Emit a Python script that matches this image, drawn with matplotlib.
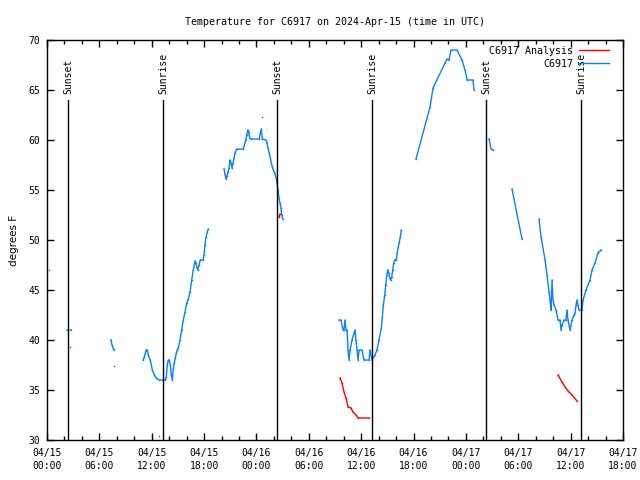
import numpy as np
import pandas as pd
import matplotlib
matplotlib.use("Agg")
import matplotlib.pyplot as plt
import matplotlib.dates as mdates

nan = np.nan

# hours after 2024-04-15 00:00 UTC, nan = gap in the record
obs_hours = [0.2, nan,
             2.3, 2.75, nan,
             7.33, 7.45, 7.56, 7.68, nan,
             11.03, 11.15, 11.27, 11.38, 11.5, 11.6, 11.83, 12.07, 12.3, 12.52, 12.87,
             13.56, 13.67, 13.78, 13.9, 14.01, 14.13, 14.24, 14.36, 14.47, 14.59, 14.7,
             14.82, 14.93, 15.05, 15.24, 15.43, 15.62, 15.81, 16.01, 16.19, 16.39,
             16.58, 16.76, 16.96, 17.07, 17.19, 17.3, 17.42, 17.57, 17.88, 17.99,
             18.1, 18.22, 18.37, 18.48, nan,
             20.28, 20.4, 20.51, 20.63, 20.74, 20.85, 20.97, 21.08, 21.2, 21.31,
             21.43, 21.54, 21.74, 22.49, 22.61, 22.77, 22.88, 23.0, 23.11, 23.23,
             23.34, 24.33, 24.44, 24.56, 24.67, 25.09, 25.21, 25.32, 25.47, 25.59,
             25.7, 25.82, 25.93, 26.09, 26.24, 26.35, 26.47, 26.58, 26.7, 26.81,
             26.89, 27.01, nan,
             33.46, 33.69, 33.92, 34.03, 34.15, 34.26, 34.38, 34.49, 34.6, 34.72,
             34.95, 35.29, 35.41, 35.52, 35.64, 35.75, 36.09, 36.32, 36.9, 37.01,
             37.24, 37.58, 37.81, 38.04, 38.31, 38.42, 38.54, 38.7, 38.81, 38.93,
             39.04, 39.15, 39.27, 39.38, 39.5, 39.61, 39.73, 39.84, 40.03, 40.14,
             40.25, 40.37, 40.48, 40.6, nan,
             42.28, 43.89, 44.23, 45.6, 45.83, 46.06, 46.29, 46.98, 47.55, 47.9,
             48.13, 48.81, 48.93, nan,
             50.65, 50.88, 51.1, nan,
             53.28, 54.43, nan,
             56.38, 56.61, 57.07, 57.29, 57.52, 57.64, 57.75, 57.87, 57.98, 58.1,
             58.33, 58.55, 58.78, 58.9, 59.01, 59.24, 59.47, 59.58, 59.7, 59.93,
             60.16, 60.39, 60.5, 60.62, 60.73, 60.85, 60.96, 61.3, 61.42, 61.76,
             62.22, 62.45, 62.79, 63.13, 63.48]
obs_temp = [47, nan,
            41, 41, nan,
            40, 39.5, 39.2, 39, nan,
            38, 38.3, 38.7, 39, 39, 38.5, 38, 37, 36.5, 36.2, 36,
            36, 36.3, 37.5, 38, 38, 37.5, 36.5, 36, 37.2, 37.7, 38.2,
            38.7, 39, 39.2, 40, 41, 42, 42.8, 43.7, 44.1, 44.8,
            46, 47, 47.9, 47.7, 47.2, 47, 47.5, 48, 48, 48.5,
            49.5, 50.3, 50.8, 51.1, nan,
            57.1, 56.6, 56.1, 56.4, 56.8, 57.2, 58, 57.7, 57.2, 57.7,
            58.2, 58.7, 59.1, 59.1, 59.5, 60, 60.5, 61, 60.8, 60.2,
            60.1, 60.1, 60.7, 61.1, 60.1, 60, 59.7, 59.2, 58.7, 58.2,
            57.7, 57.3, 57, 56.7, 56.3, 55.7, 55, 54.2, 53.7, 53.2,
            52.5, 52.1, nan,
            42, 42, 41, 41, 42, 41, 41, 39, 38, 39,
            40, 41, 40, 39, 38, 39, 39, 38, 38, 39,
            38, 38.5, 39, 40, 41.2, 42.3, 43.5, 44.5, 45.5, 46.5,
            47, 46.7, 46.2, 46, 46.3, 47, 47.7, 48, 48, 48.8,
            49.3, 49.8, 50.3, 51, nan,
            58.1, 63.3, 65.2, 67.7, 68.1, 68, 69, 69, 68, 67,
            66, 66, 65, nan,
            60.1, 59.1, 59, nan,
            55.1, 50.1, nan,
            52.1, 50.3, 48, 46.5, 44.8, 44, 43, 46, 44, 43.5,
            43, 42, 42, 41, 41.5, 42, 42, 43, 42, 41,
            42, 42.5, 42.7, 43.5, 44, 43.5, 43, 43, 44, 45,
            46, 47, 47.7, 48.7, 49]

ana_hours = [2.64, nan,
             7.7, nan,
             12.8, nan,
             24.67, nan,
             26.58, 26.7, nan,
             33.57, 33.8, 34.03, 34.26, 34.49, 34.83, 35.06, 35.41, 35.64, 36.9, nan,
             58.55, 59.01, 59.36, 59.7, 60.16, 60.73]
ana_temp = [39.3, nan,
            37.4, nan,
            30.4, nan,
            62.3, nan,
            52.3, 52.6, nan,
            36.2, 35.7, 34.8, 34.2, 33.3, 33.2, 32.8, 32.5, 32.2, 32.2, nan,
            36.5, 35.8, 35.3, 34.9, 34.5, 33.9]

sun_hours = [2.4, 13.3, 26.35, 37.24, 50.3, 61.2]
sun_labels = ['Sunset', 'Sunrise', 'Sunset', 'Sunrise', 'Sunset', 'Sunrise']

start = mdates.date2num(pd.Timestamp('2024-04-15 00:00'))
end = mdates.date2num(pd.Timestamp('2024-04-17 18:00'))


def to_time(hours):
    return start + np.asarray(hours, dtype=float) / 24.0


mono = 'DejaVu Sans Mono'

fig = plt.figure(figsize=(6.4, 4.8), dpi=100)
ax = fig.add_axes([47 / 640, 40 / 480, 576 / 640, 400 / 480])
ax.xaxis_date()

ax.plot(to_time(ana_hours), ana_temp, color='#ff0000', lw=1,
        marker='s', markersize=1, markeredgewidth=0, label='C6917 Analysis')
ax.plot(to_time(obs_hours), obs_temp, color='#0a80ff', lw=1,
        marker='s', markersize=1, markeredgewidth=0, label='C6917')

for t, lab in zip(to_time(sun_hours), sun_labels):
    ax.plot([t, t], [30, 64], color='black', lw=1)
    ax.text(t, 64.6, lab, rotation=90, ha='center', va='bottom',
            family=mono, fontsize=7)

ax.set_xlim(start, end)
ax.set_ylim(30, 70)
ax.set_yticks(np.arange(30, 71, 5))
ax.xaxis.set_major_locator(mdates.HourLocator(byhour=[0, 6, 12, 18]))
ax.xaxis.set_minor_locator(mdates.HourLocator(interval=2))
ax.xaxis.set_major_formatter(mdates.DateFormatter('%m/%d\n%H:%M'))

ax.tick_params(which='both', direction='in', top=True, right=True, width=1)
ax.tick_params(which='major', length=5, labelsize=7)
ax.tick_params(which='minor', length=3)
ax.tick_params(axis='x', which='major', pad=6)
ax.tick_params(axis='y', which='major', pad=5)
for lab in ax.get_xticklabels() + ax.get_yticklabels():
    lab.set_family(mono)
    lab.set_linespacing(1.3)
for sp in ax.spines.values():
    sp.set_linewidth(1)

ax.set_title('Temperature for C6917 on 2024-Apr-15 (time in UTC)',
             family=mono, fontsize=7.2, pad=11)
ax.set_ylabel('degrees F', fontsize=7.5, labelpad=7)

leg = ax.legend(loc='upper right', bbox_to_anchor=(1 - 10 / 576, 1 - 2 / 400),
                frameon=False, prop={'family': mono, 'size': 7.2},
                markerfirst=False, handlelength=3, handletextpad=0.6,
                borderaxespad=0, labelspacing=0.3)
leg._legend_box.align = 'right'

fig.savefig('out.png', dpi=100)
